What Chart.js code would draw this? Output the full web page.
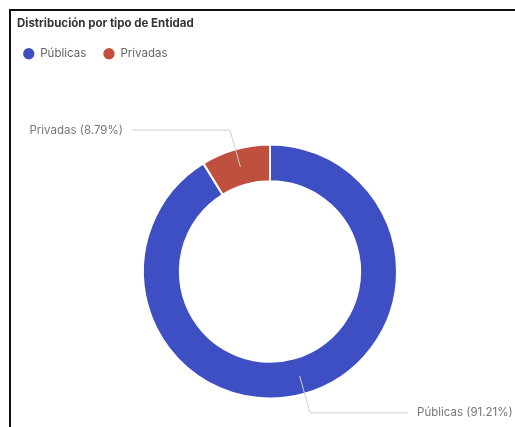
<!DOCTYPE html>
<html>
<head>
<meta charset="utf-8">
<script src="https://cdn.jsdelivr.net/npm/chart.js@4.4.1/dist/chart.umd.min.js"></script>
<style>
  html, body { margin: 0; padding: 0; background: #fff; overflow: hidden; }
  #wrap { position: relative; width: 515px; height: 427px; overflow: hidden; background: #fff; }
  #c { position: absolute; left: 0; top: 0; }
  #title { position: absolute; left: 17px; top: 16px; font: bold 11.5px Inter, "Noto Sans", sans-serif; color: #333; white-space: nowrap; }
  .bt { position: absolute; left: 9px; top: 9px; width: 506px; height: 2px; background: #111; }
  .bl { position: absolute; left: 9px; top: 9px; width: 2px; height: 418px; background: #111; }
</style>
</head>
<body>
<div id="wrap">
  <canvas id="c" width="540" height="480"></canvas>
  <div class="bt"></div>
  <div class="bl"></div>
  <div id="title">Distribución por tipo de Entidad</div>
</div>
<script>
const categories = ["Públicas", "Privadas"];
const values = [91.21, 8.79];
const colors = ["#3e4fc3", "#c0503e"];

const outerLabels = {
  id: 'outerLabels',
  afterDatasetsDraw(chart) {
    const ctx = chart.ctx;
    const meta = chart.getDatasetMeta(0);
    ctx.save();
    ctx.font = '11.5px Inter, "Noto Sans", sans-serif';
    ctx.textBaseline = 'middle';
    meta.data.forEach((arc, i) => {
      const p = arc.getProps(['x', 'y', 'startAngle', 'endAngle', 'innerRadius', 'outerRadius'], true);
      const a = (p.startAngle + p.endAngle) / 2;
      const rMid = (p.innerRadius + p.outerRadius) / 2;
      const rEl = p.outerRadius + 20;
      const x0 = p.x + Math.cos(a) * rMid, y0 = p.y + Math.sin(a) * rMid;
      const x1 = p.x + Math.cos(a) * rEl, y1 = p.y + Math.sin(a) * rEl;
      const dir = Math.cos(a) >= 0 ? 1 : -1;
      const x2 = x1 + dir * 98;
      ctx.strokeStyle = '#cfcfcf';
      ctx.lineWidth = 1;
      ctx.beginPath();
      ctx.moveTo(x0, y0);
      ctx.lineTo(x1, y1);
      ctx.lineTo(x2, y1);
      ctx.stroke();
      ctx.fillStyle = '#777';
      ctx.textAlign = dir > 0 ? 'left' : 'right';
      const txt = categories[i] + ' (' + values[i].toFixed(2) + '%)';
      ctx.fillText(txt, x2 + dir * 9, y1);
    });
    ctx.restore();
  }
};

new Chart(document.getElementById('c'), {
  type: 'doughnut',
  data: {
    labels: categories,
    datasets: [{
      data: values,
      backgroundColor: colors,
      borderColor: '#ffffff',
      borderWidth: 2,
      radius: 127,
      cutout: '71%',
      hoverOffset: 0
    }]
  },
  options: {
    responsive: false,
    devicePixelRatio: 1,
    animation: false,
    layout: { padding: { left: 6, right: 6, top: 31, bottom: 6.5 } },
    plugins: {
      title: { display: false },
      tooltip: { enabled: false },
      legend: {
        position: 'top',
        align: 'start',
        labels: {
          usePointStyle: true,
          pointStyle: 'circle',
          boxWidth: 12,
          boxHeight: 8,
          padding: 17,
          color: '#666',
          font: { family: 'Inter, "Noto Sans", sans-serif', size: 11.5 },
          generateLabels(chart) {
            const items = Chart.controllers.doughnut.overrides.plugins.legend.labels.generateLabels(chart);
            items.forEach(it => { it.lineWidth = 0; });
            return items;
          }
        }
      }
    }
  },
  plugins: [outerLabels]
});
</script>
</body>
</html>
